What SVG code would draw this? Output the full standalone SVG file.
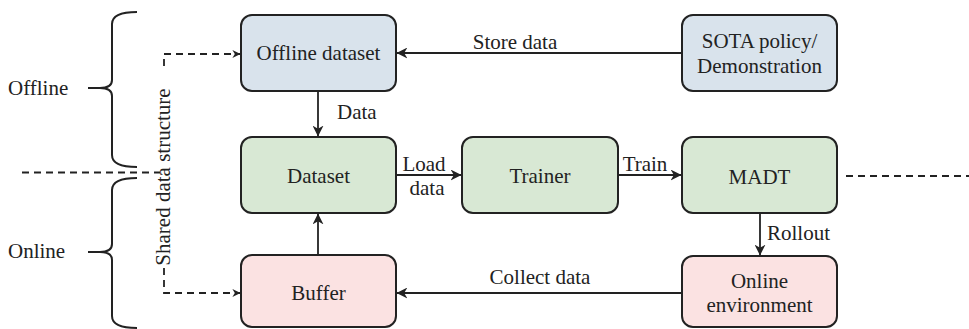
<svg xmlns="http://www.w3.org/2000/svg" width="969" height="329" viewBox="0 0 969 329" font-family="'Liberation Serif', 'DejaVu Serif', serif">
<style>
text{font-family:'Liberation Serif','DejaVu Serif',serif;font-size:21px;fill:#222}
.c{text-anchor:middle}
.box{stroke:#222;stroke-width:2}
.blue{fill:#d9e3ec}
.green{fill:#d8e8d4}
.pink{fill:#fbe2e2}
.ln{fill:none;stroke:#222;stroke-width:1.8}
.dash{fill:none;stroke:#222;stroke-width:1.8;stroke-dasharray:7,5}
.br{fill:none;stroke:#222;stroke-width:2}
</style>
<defs>
<marker id="ah" viewBox="0 0 10 10" refX="9.5" refY="5" markerWidth="8" markerHeight="8" markerUnits="userSpaceOnUse" orient="auto">
<path d="M0,0 L10,5 L0,10 L3,5 z" fill="#222"/>
</marker>
<marker id="ahl" viewBox="0 0 10 10" refX="9.5" refY="5" markerWidth="11" markerHeight="11" markerUnits="userSpaceOnUse" orient="auto">
<path d="M0,0 L10,5 L0,10 L3,5 z" fill="#222"/>
</marker>
</defs>
<g id="braces">
<path class="br" d="M137,12 Q112,12 112,24 L112,80 Q112,88 100,88 L88,88 M100,88 Q112,88 112,96 L112,155 Q112,167 137,167"/>
<path class="br" d="M137,178 Q112,178 112,190 L112,244 Q112,252 100,252 L88,252 M100,252 Q112,252 112,260 L112,316 Q112,328 137,328"/>
<text x="8" y="95">Offline</text>
<text x="8" y="258">Online</text>
</g>
<g id="connectors">
<line class="dash" x1="22" y1="172.5" x2="160" y2="172.5"/>
<line class="dash" x1="846" y1="176" x2="969" y2="176"/>
<path class="dash" d="M164,66 L164,54 L240,54" marker-end="url(#ah)"/>
<path class="dash" d="M164,268 L164,293 L240,293" marker-end="url(#ah)"/>
<line class="ln" x1="682" y1="53" x2="397" y2="53" marker-end="url(#ahl)"/>
<line class="ln" x1="318" y1="91" x2="318" y2="136" marker-end="url(#ahl)"/>
<line class="ln" x1="396" y1="175" x2="461" y2="175" marker-end="url(#ahl)"/>
<line class="ln" x1="618" y1="175" x2="681" y2="175" marker-end="url(#ahl)"/>
<line class="ln" x1="760" y1="213" x2="760" y2="255" marker-end="url(#ahl)"/>
<line class="ln" x1="682" y1="293" x2="397" y2="293" marker-end="url(#ahl)"/>
<line class="ln" x1="318" y1="255" x2="318" y2="214" marker-end="url(#ahl)"/>
<text class="c" x="515" y="49">Store data</text>
<text x="337" y="119">Data</text>
<text class="c" x="424" y="171">Load</text>
<text class="c" x="427" y="195">data</text>
<text class="c" x="645" y="171">Train</text>
<text x="767" y="240">Rollout</text>
<text class="c" x="540" y="284">Collect data</text>
<text class="c" transform="translate(170,177) rotate(-90)">Shared data structure</text>
</g>
<g id="offline-dataset">
<rect class="box blue" x="241" y="15" width="155" height="76" rx="11"/>
<text class="c" x="318.5" y="60">Offline dataset</text>
</g>
<g id="sota">
<rect class="box blue" x="682" y="15" width="155" height="76" rx="11"/>
<text class="c" x="759.5" y="48">SOTA policy/</text>
<text class="c" x="759.5" y="73">Demonstration</text>
</g>
<g id="dataset">
<rect class="box green" x="241" y="137" width="155" height="76" rx="11"/>
<text class="c" x="318.5" y="183">Dataset</text>
</g>
<g id="trainer">
<rect class="box green" x="462" y="137" width="156" height="76" rx="11"/>
<text class="c" x="540" y="183">Trainer</text>
</g>
<g id="madt">
<rect class="box green" x="682" y="137" width="155" height="76" rx="11"/>
<text class="c" x="759.5" y="184">MADT</text>
</g>
<g id="buffer">
<rect class="box pink" x="241" y="255" width="155" height="72" rx="11"/>
<text class="c" x="318.5" y="300">Buffer</text>
</g>
<g id="online-env">
<rect class="box pink" x="682" y="256" width="155" height="71" rx="11"/>
<text class="c" x="759.5" y="288">Online</text>
<text class="c" x="759.5" y="312">environment</text>
</g>
</svg>
